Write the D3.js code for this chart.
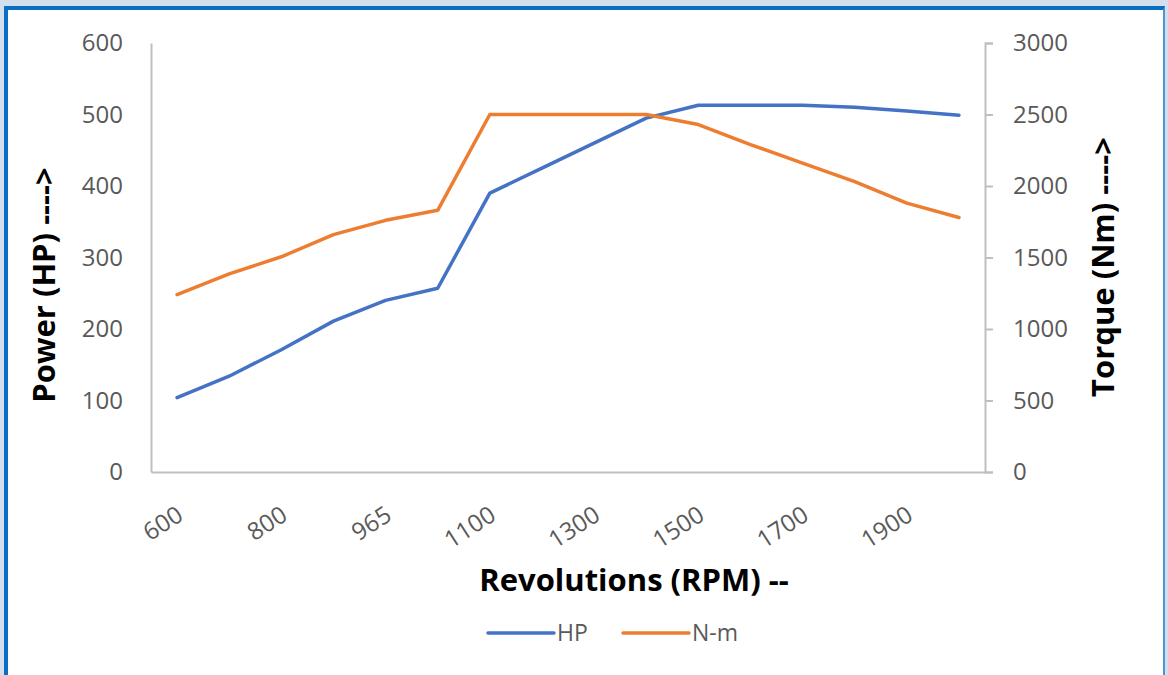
<!DOCTYPE html>
<meta charset="utf-8">
<style>
  body { margin: 0; background: #d3dfec; }
  #frame {
    position: absolute; left: 4px; top: 6px; width: 1161px; height: 669px;
    background: #fff; border-left: 4px solid #0a6fc2; border-top: 4px solid #0a6fc2;
    border-right: 2px solid #4d94d2; box-sizing: border-box;
  }
  svg { position: absolute; left: 0; top: 0; }
  text { font-family: "Open Sans", sans-serif; }
  .tick text { fill: #595959; font-size: 24px; }
  .axis-title { font-weight: bold; fill: #000; font-size: 31px; }
  .legend text { fill: #595959; font-size: 23px; }
</style>
<body>
<div id="frame"></div>
<svg id="chart"></svg>
<script src="https://cdn.jsdelivr.net/npm/d3@7"></script>
<script>
  var width = 1168, height = 675;

  // data
  var rpm = ["600", "700", "800", "900", "965", "1000", "1100", "1200", "1300", "1400", "1500", "1600", "1700", "1800", "1900", "2000"];
  var hp = [104, 134, 171, 211, 240, 257, 390, 425, 460, 495, 513, 513, 513, 510, 505, 499];
  var torque = [1240, 1385, 1505, 1660, 1760, 1830, 2500, 2500, 2500, 2500, 2430, 2290, 2160, 2030, 1880, 1780];
  var hpTicks = [0, 100, 200, 300, 400, 500, 600];
  var torqueTicks = [0, 500, 1000, 1500, 2000, 2500, 3000];
  var labelEvery = 2;

  var plotLeft = 151, plotRight = 985, plotTop = 43, plotBottom = 472;

  var svg = d3.select("#chart").attr("width", width).attr("height", height);

  var x = d3.scaleBand().domain(rpm).range([plotLeft, plotRight]);
  var yL = d3.scaleLinear().domain([0, 600]).range([plotBottom, plotTop]);
  var yR = d3.scaleLinear().domain([0, 3000]).range([plotBottom, plotTop]);

  // left axis
  var gl = svg.append("g").attr("transform", "translate(" + plotLeft + ",0)")
    .call(d3.axisLeft(yL).tickValues(hpTicks).tickSize(0).tickPadding(28).tickFormat(d3.format("d")));
  gl.select(".domain").attr("stroke", "#bfbfbf").attr("stroke-width", 2);

  // right axis
  var gr = svg.append("g").attr("transform", "translate(" + plotRight + ",0)")
    .call(d3.axisRight(yR).tickValues(torqueTicks).tickSize(8).tickSizeOuter(8).tickPadding(20).tickFormat(d3.format("d")));
  gr.select(".domain").attr("stroke", "#bfbfbf").attr("stroke-width", 2);
  gr.selectAll(".tick line").attr("stroke", "#bfbfbf").attr("stroke-width", 2);
  gr.selectAll(".tick text").attr("text-anchor", "start");

  // bottom axis
  var gb = svg.append("g").attr("transform", "translate(0," + plotBottom + ")")
    .call(d3.axisBottom(x).tickSize(0).tickSizeOuter(0)
      .tickFormat(function (d, i) { return i % labelEvery === 0 ? d : ""; }));
  gb.select(".domain").attr("stroke", "#bfbfbf").attr("stroke-width", 2);
  gb.selectAll(".tick text")
    .attr("text-anchor", "end")
    .attr("transform", "translate(3,40) rotate(-33)")
    .attr("dy", "0.35em")
    .attr("y", 0);

  // lines
  var cx = function (d, i) { return x(rpm[i]) + x.bandwidth() / 2; };
  var lineL = d3.line().x(cx).y(function (d) { return yL(d); });
  var lineR = d3.line().x(cx).y(function (d) { return yR(d); });

  svg.append("path").datum(hp).attr("d", lineL)
    .attr("fill", "none").attr("stroke", "#4472c4").attr("stroke-width", 3.5)
    .attr("stroke-linejoin", "round").attr("stroke-linecap", "round");
  svg.append("path").datum(torque).attr("d", lineR)
    .attr("fill", "none").attr("stroke", "#ed7d31").attr("stroke-width", 3.5)
    .attr("stroke-linejoin", "round").attr("stroke-linecap", "round");

  // axis titles
  svg.append("text").attr("class", "axis-title")
    .attr("transform", "translate(55,285) rotate(-90)")
    .attr("text-anchor", "middle").text("Power (HP) ---->");
  svg.append("text").attr("class", "axis-title")
    .attr("transform", "translate(1114,267) rotate(-90)")
    .attr("text-anchor", "middle").text("Torque (Nm) ---->");
  svg.append("text").attr("class", "axis-title")
    .attr("x", 634).attr("y", 591)
    .attr("text-anchor", "middle").text("Revolutions (RPM) --");

  // legend
  var series = [
    { name: "HP", color: "#4472c4", x: 488 },
    { name: "N-m", color: "#ed7d31", x: 623 }
  ];
  var lg = svg.append("g").attr("class", "legend");
  series.forEach(function (s) {
    lg.append("line").attr("x1", s.x).attr("x2", s.x + 66).attr("y1", 633).attr("y2", 633)
      .attr("stroke", s.color).attr("stroke-width", 3.5).attr("stroke-linecap", "round");
    lg.append("text").attr("x", s.x + 69).attr("y", 633).attr("dy", "0.35em").text(s.name);
  });
</script>
</body>
